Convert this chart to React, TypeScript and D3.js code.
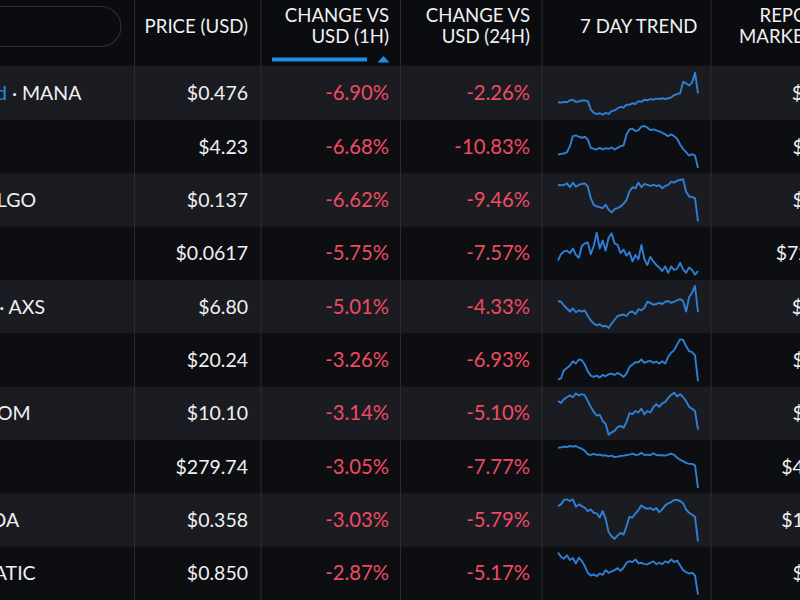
import React from "react";
import * as d3 from "d3";

const names = ["Decentraland", "Filecoin", "Algorand", "Chiliz", "Axie Infinity", "Solana", "Cosmos", "BNB", "Cardano", "Polygon"];
const symbols = ["MANA", "FIL", "ALGO", "CHZ", "AXS", "SOL", "ATOM", "BNB", "ADA", "MATIC"];
const prices = ["$0.476", "$4.23", "$0.137", "$0.0617", "$6.80", "$20.24", "$10.10", "$279.74", "$0.358", "$0.850"];
const change1h = [-6.9, -6.68, -6.62, -5.75, -5.01, -3.26, -3.14, -3.05, -3.03, -2.87];
const change24h = [-2.26, -10.83, -9.46, -7.57, -4.33, -6.93, -5.1, -7.77, -5.79, -5.17];
const marketCaps = ["$884M", "$1.76B", "$1.00B", "$726.1M", "$787M", "$8.06B", "$2.95B", "$43.68B", "$12.52B", "$7.92B"];
const headers = [
  ["PRICE (USD)"],
  ["CHANGE VS", "USD (1H)"],
  ["CHANGE VS", "USD (24H)"],
  ["7 DAY TREND"],
  ["REPORTED", "MARKET CAP"],
];

const trendMANA = [55,54,56,55,60,62,56,57,60,60,58,35,25,22,24,20,25,22,30,32,38,42,40,48,48,52,50,58,56,62,60,64,62,65,64,66,64,66,68,75,78,80,112,108,102,110,138,80];
const trendFIL = [55,57,58,62,80,110,112,108,105,108,100,75,72,70,75,70,74,72,76,70,75,80,82,115,130,132,125,128,138,140,135,128,130,127,124,120,115,110,115,110,102,85,72,62,52,56,52,15];
const trendALGO = [125,124,125,130,118,132,120,125,128,130,120,85,65,60,58,55,65,50,42,52,55,60,68,80,105,118,115,132,118,128,125,122,125,122,124,115,122,125,135,132,138,140,142,105,90,88,85,15];
const trendCHZ = [65,82,90,92,85,98,80,72,105,112,115,82,105,142,98,120,92,128,140,112,108,85,95,78,88,62,80,68,108,68,52,75,62,52,45,35,48,30,48,38,42,58,40,30,45,38,25,35];
const trendAXS = [100,98,88,80,72,80,70,75,72,75,60,48,40,35,38,32,34,28,40,50,60,62,64,60,70,72,65,78,75,82,98,95,90,92,95,92,98,100,95,98,102,105,100,72,110,122,140,70];
const trendSOL = [20,24,48,55,62,75,68,80,78,65,45,32,28,32,26,34,30,36,38,34,40,35,28,38,58,65,72,72,80,70,74,76,70,74,68,75,68,88,100,108,125,140,138,120,105,102,92,15];
const trendATOM = [120,115,125,130,135,130,140,135,138,135,120,105,92,82,84,68,60,32,38,42,52,55,50,65,88,86,94,90,100,85,94,90,104,112,105,114,118,128,136,142,132,138,130,120,105,100,94,45];
const trendBNB = [137,138,140,139,142,140,142,137,134,128,118,116,119,116,117,114,115,112,114,110,111,113,114,116,117,120,116,117,122,116,117,115,121,116,115,115,114,117,120,116,108,102,98,93,90,90,86,20];
const trendADA = [120,125,138,140,135,140,118,125,120,115,105,110,100,98,86,105,82,42,30,22,32,40,35,60,88,86,98,108,122,115,112,114,108,114,102,110,122,128,132,138,138,135,128,110,100,94,88,15];
const trendMATIC = [140,128,122,132,118,124,108,125,115,100,80,72,75,70,78,74,88,80,84,88,94,86,95,110,115,112,120,108,110,106,105,110,114,106,110,106,114,110,120,112,116,102,88,82,78,80,72,15];
const trends = [trendMANA, trendFIL, trendALGO, trendCHZ, trendAXS, trendSOL, trendATOM, trendBNB, trendADA, trendMATIC];

const W = 800;
const H = 600;
const HEADER_H = 66.67;
const FONT = "Lato, 'Open Sans', sans-serif";
const WHITE = "#f1f1f3";
const RED = "#ee4a62";
const BLUE = "#2a8be2";
const LINE_BLUE = "#2e80d6";
const DIVIDER = "#2b2c31";
const dividers = [134.5, 261, 400.5, 542, 711];
const textRight = [248, 389, 530, 697.5, 855];

export default function App() {
  const rowScale = d3.scaleBand<string>().domain(symbols).range([HEADER_H, H]).padding(0);
  const rh = rowScale.bandwidth();
  const fmt = d3.format(".2f");
  const pct = (v: number) => (v < 0 ? "-" : "") + fmt(Math.abs(v)) + "%";

  return (
    <svg width={W} height={H} style={{ position: "absolute", left: 0, top: 0, display: "block" }} fontFamily={FONT}>
      <rect x={0} y={0} width={W} height={H} fill="#0b0c0f" />
      {symbols.map((s, i) => (
        <rect key={"bg" + s} x={0} y={rowScale(s)} width={W} height={rh + 0.5} fill={i % 2 === 0 ? "#1b1c21" : "#0d0e11"} />
      ))}
      <line x1={0} x2={W} y1={HEADER_H - 0.5} y2={HEADER_H - 0.5} stroke="#1f2025" strokeWidth={1} />
      {dividers.map((x) => (
        <line key={"d" + x} x1={x} x2={x} y1={0} y2={H} stroke={DIVIDER} strokeWidth={1} />
      ))}
      {/* search box */}
      <rect x={-40} y={6.5} width={161} height={40} rx={20} ry={20} fill="#0b0c0f" stroke="#2e2f35" strokeWidth={1.2} />
      {/* headers */}
      {headers.map((lines, c) => (
        <text key={"h" + c} fill={WHITE} fontSize={18.6} textAnchor="end">
          {lines.length === 1 ? (
            <tspan x={textRight[c]} y={33}>{lines[0]}</tspan>
          ) : (
            lines.map((l, k) => (
              <tspan key={k} x={textRight[c]} y={21.7 + k * 21.6}>{l}</tspan>
            ))
          )}
        </text>
      ))}
      {/* sort indicator */}
      <rect x={272} y={57.5} width={95} height={4} fill="#1d8fe3" />
      <path d="M377.5,62.5 L383.5,56 L389.5,62.5 Z" fill="#1d8fe3" />
      {/* rows */}
      {symbols.map((s, i) => {
        const top = rowScale(s) as number;
        const base = top + rh / 2 + 7;
        const data = trends[i];
        const x = d3.scaleLinear().domain([0, data.length - 1]).range([558, 698]);
        const ext = d3.extent(data) as [number, number];
        const y = d3.scaleLinear().domain(ext).range([top + 48, top + 6]);
        const line = d3.line<number>().x((_, k) => x(k)).y((v) => y(v)).curve(d3.curveLinear);
        return (
          <g key={"r" + s} fontSize={19.5}>
            <text x={-108} y={base} fill={WHITE}>
              <tspan fill={BLUE}>{names[i]}</tspan>
              <tspan>{" · " + s}</tspan>
            </text>
            <text x={textRight[0]} y={base} fill={WHITE} textAnchor="end">{prices[i]}</text>
            <text x={textRight[1]} y={base} fill={RED} textAnchor="end" fontSize={20.3}>{pct(change1h[i])}</text>
            <text x={textRight[2]} y={base} fill={RED} textAnchor="end" fontSize={20.3}>{pct(change24h[i])}</text>
            <path d={line(data) || ""} fill="none" stroke={LINE_BLUE} strokeWidth={1.9} strokeLinejoin="round" />
            <text x={textRight[4]} y={base} fill={WHITE} textAnchor="end">{marketCaps[i]}</text>
          </g>
        );
      })}
    </svg>
  );
}
